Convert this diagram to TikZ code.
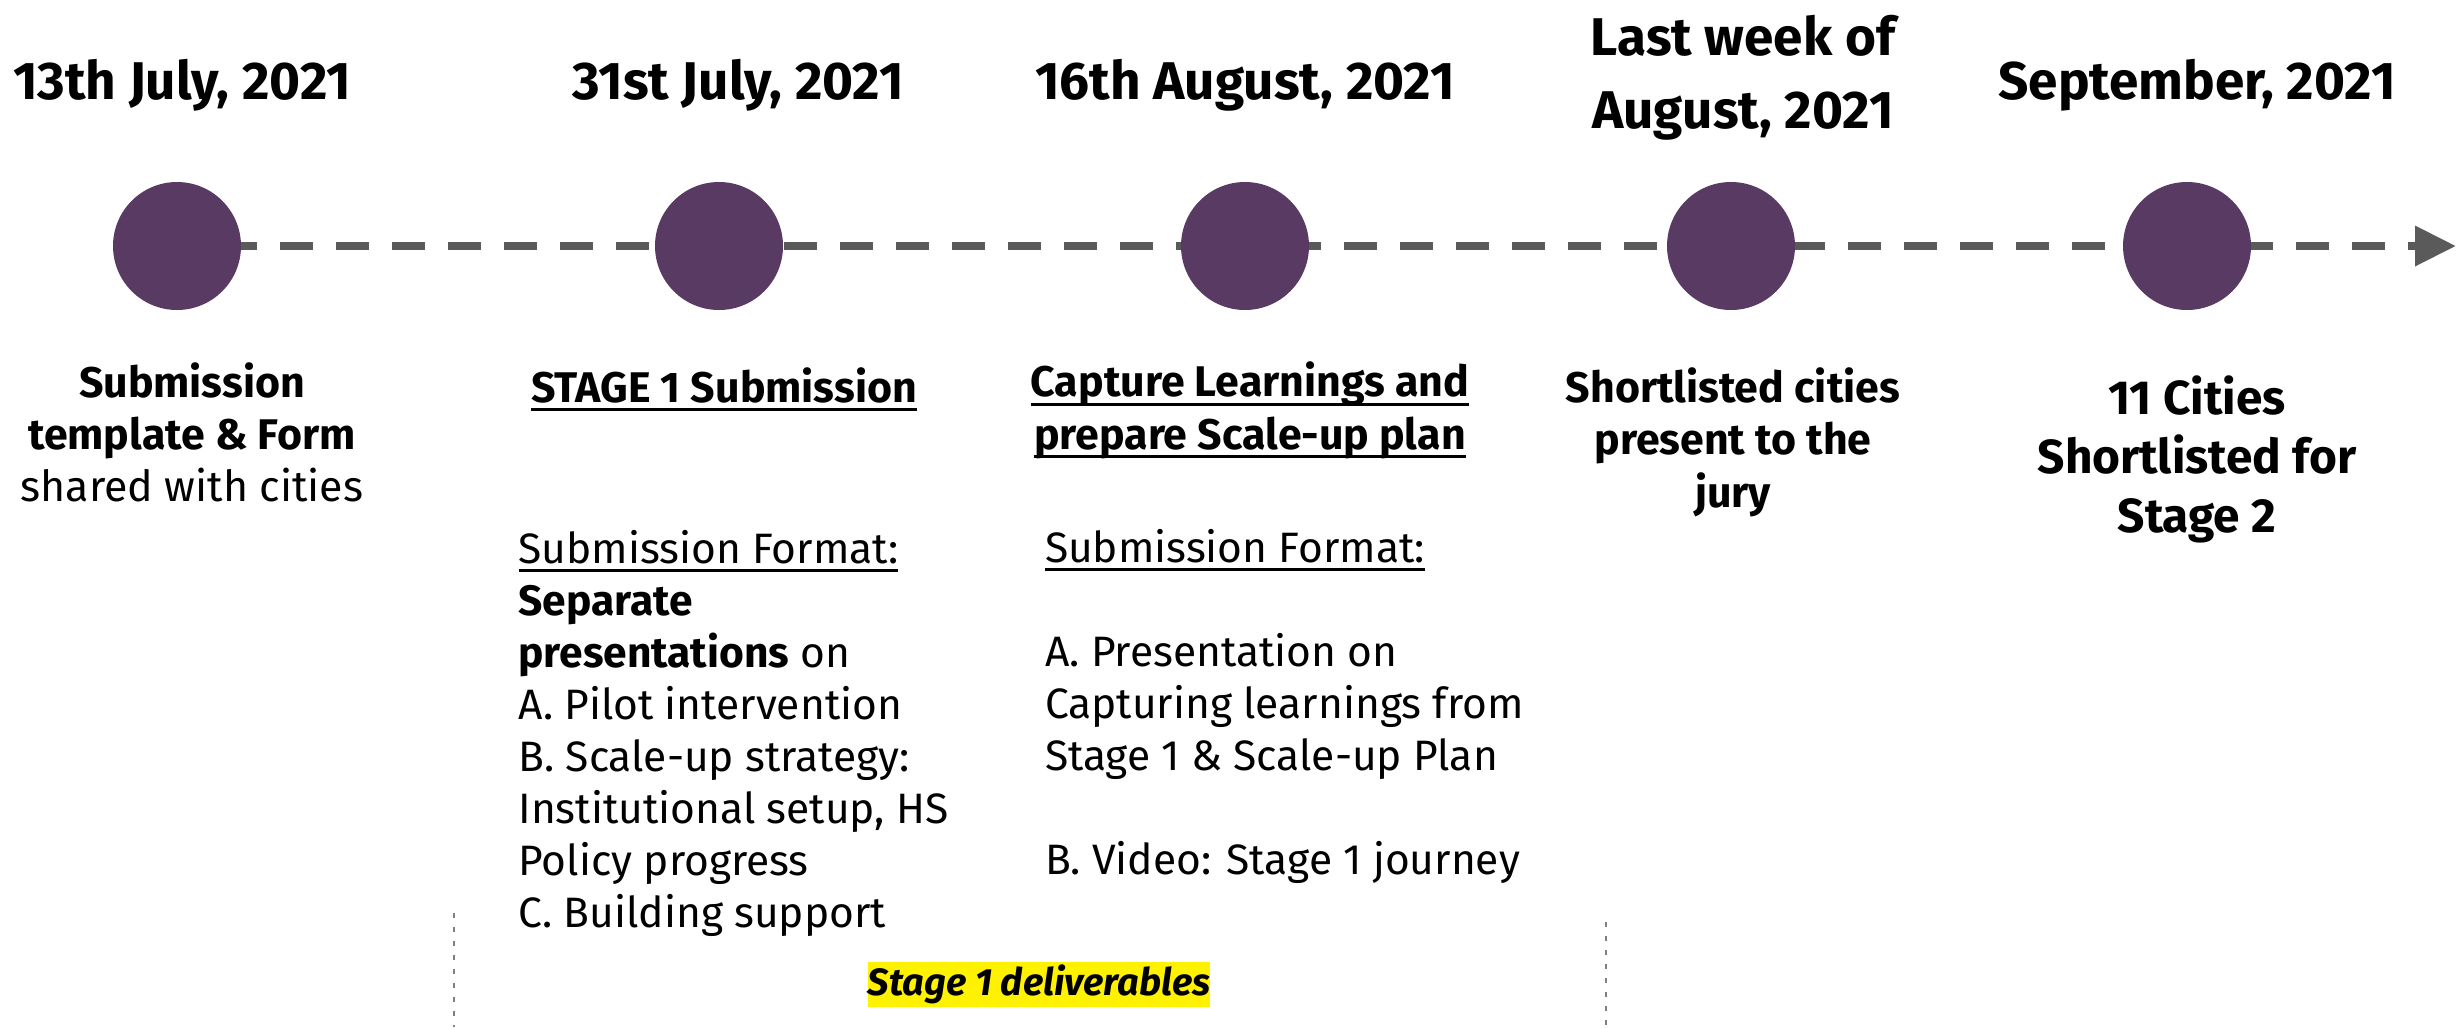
\documentclass[tikz,border=0pt]{standalone}
\usepackage{fontspec}
\setmainfont{Fira Sans}
\usetikzlibrary{positioning, arrows.meta, backgrounds}
\definecolor{plum}{HTML}{583A63}
\definecolor{lineGray}{HTML}{5A5A5A}
\definecolor{divGray}{HTML}{808080}
\newcommand{\ulin}[1]{\setbox0\hbox{#1}\rlap{\rule[-2.5pt]{\wd0}{0.9pt}}\box0}

\begin{document}
\begin{tikzpicture}[>=Triangle, every node/.style={inner sep=0pt, outer sep=0pt}]
  \tikzset{milestone/.style={circle, fill=plum, minimum size=1.28cm},
    datehead/.style={anchor=base, align=center, font=\fontsize{15.1}{20.7}\selectfont\bfseries},
    evtlabel/.style={anchor=base, align=center, font=\fontsize{12.2}{14.8}\selectfont},
    body/.style={anchor=base west, align=left, font=\fontsize{12.1}{14.77}\selectfont},
    divider/.style={divGray, line width=0.022cm, dash pattern=on 0.05cm off 0.09cm}}
  \useasboundingbox (0,0) rectangle (24.56,-10.27);

  % milestones on the time line
  \node[milestone] (launch) at (1.77,-2.46) {};
  \node[milestone] (stageone) at (7.19,-2.46) {};
  \node[milestone] (learn) at (12.45,-2.46) {};
  \node[milestone] (jury) at (17.31,-2.46) {};
  \node[milestone] (shortlist) at (21.87,-2.46) {};
  \coordinate (tip) at (24.56,-2.46);

  \begin{scope}[on background layer]
    \draw[-{Triangle[length=0.41cm, width=0.385cm]}, lineGray, line width=0.083cm,
      dash pattern=on 0.327cm off 0.233cm, dash phase=0.09cm] (launch.center) -- (tip);
  \end{scope}

  % dates (base = last line)
  \node[datehead] (dLaunch) at (1.82,-0.99) {13th July, 2021};
  \node[datehead] (dStageone) at (7.38,-0.99) {31st July, 2021};
  \node[datehead] (dLearn) at (12.45,-0.99) {16th August, 2021};
  \node[datehead] (dJury) at (17.43,-1.285) {Last week of\\August, 2021};
  \node[datehead] (dShortlist) at (21.97,-0.99) {September, 2021};

  % what happens
  \node[evtlabel] (tLaunch) at (1.92,-5.015) {\textbf{Submission}\\\textbf{template \& Form}\\shared with cities};
  \node[evtlabel, font=\fontsize{12.2}{14.8}\selectfont\bfseries] (tStageone) at (7.24,-4.02) {\ulin{STAGE 1 Submission}};
  \node[evtlabel, font=\fontsize{12.2}{14.8}\selectfont\bfseries] (tLearn) at (12.50,-4.49) {\ulin{Capture Learnings and}\\\ulin{prepare Scale-up plan}};
  \node[evtlabel, font=\fontsize{12.2}{14.8}\selectfont\bfseries] (tJury) at (17.33,-5.07) {Shortlisted cities\\present to the\\jury};
  \node[evtlabel, font=\fontsize{13.6}{16.7}\selectfont\bfseries] (tShortlist) at (21.97,-5.32) {11 Cities\\Shortlisted for\\Stage 2};

  % submission formats
  \node[body] (fmtStageone) at (5.185,-9.27) {\ulin{Submission Format:}\\\textbf{Separate}\\\textbf{presentations} on\\A. Pilot intervention\\B. Scale-up strategy:\\Institutional setup, HS\\Policy progress\\C. Building support};
  \node[body] (fmtLearn) at (10.45,-8.74) {\ulin{Submission Format:}\\\mbox{}\\A. Presentation on\\Capturing learnings from\\Stage 1 \& Scale-up Plan\\\mbox{}\\B. Video: Stage 1 journey};

  % stage 1 bracket
  \coordinate (divLtop) at (4.54,-9.13);
  \coordinate (divLbot) at (4.54,-10.27);
  \coordinate (divRtop) at (16.06,-9.22);
  \coordinate (divRbot) at (16.06,-10.27);
  \draw[divider] (divLtop) -- (divLbot);
  \draw[divider] (divRtop) -- (divRbot);
  \node[fill=yellow, minimum width=3.40cm, minimum height=0.45cm, font=\fontsize{10.8}{13}\selectfont\bfseries\itshape] (deliv) at (10.39,-9.845) {Stage 1 deliverables};
\end{tikzpicture}
\end{document}
